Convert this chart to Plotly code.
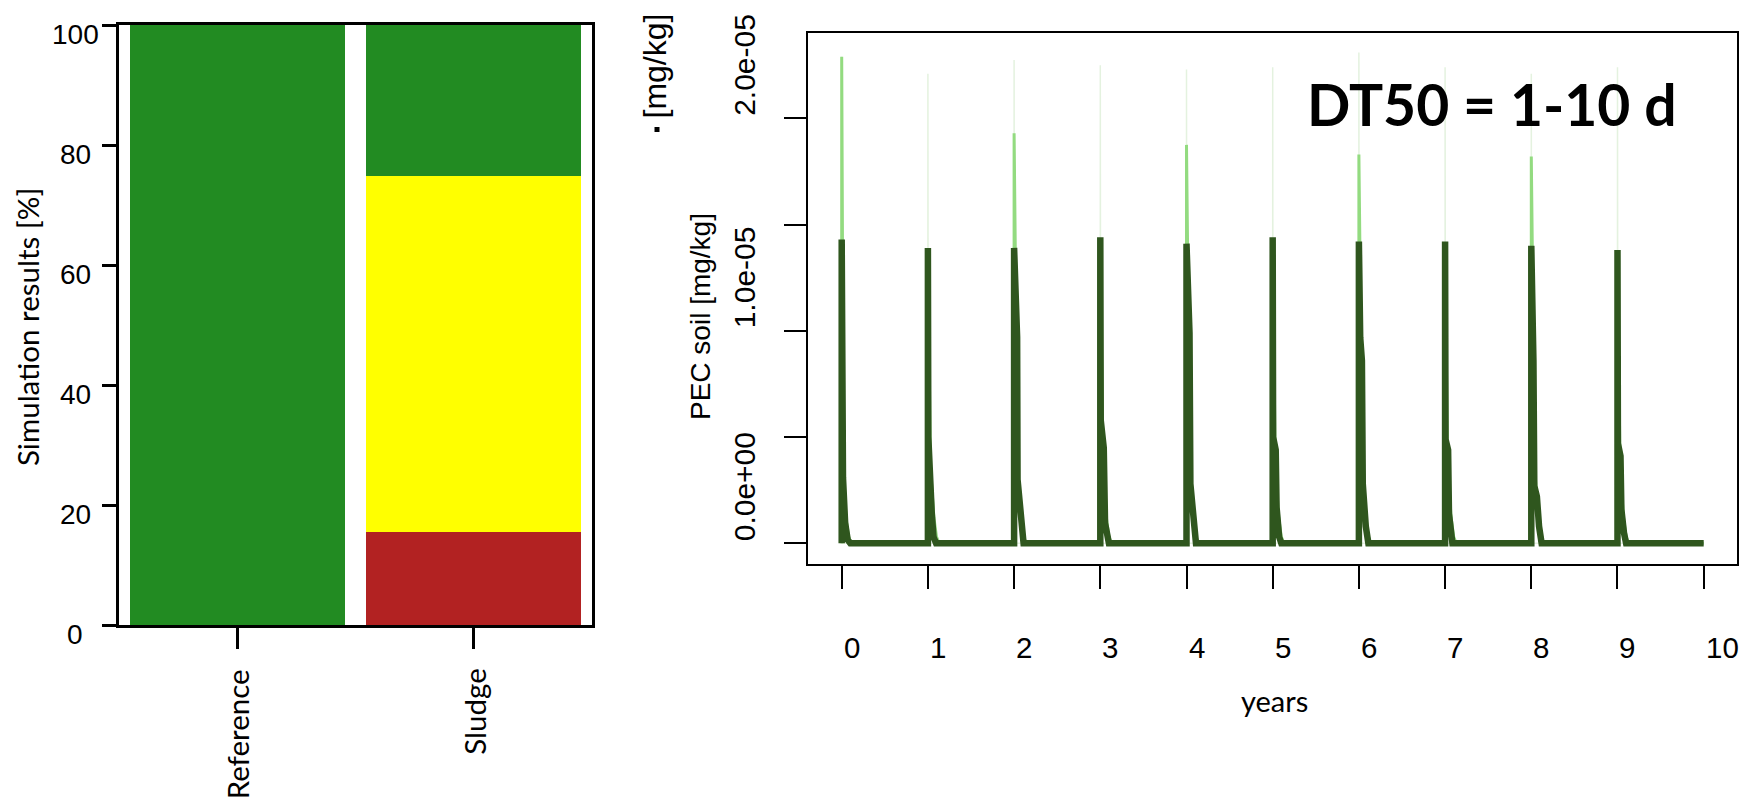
import plotly.graph_objects as go

W, H = 1752, 799

# ---------------- left panel data ----------------
categories = ["Reference", "Sludge"]
share_red = [0.0, 15.5]
share_yellow = [0.0, 59.4]
share_green = [100.0, 25.1]
pct_ticks = [0, 20, 40, 60, 80, 100]

# ---------------- right panel data ----------------
year_ticks = [0, 1, 2, 3, 4, 5, 6, 7, 8, 9, 10]
pec_ticks = [0.0, 0.5e-5, 1.0e-5, 1.5e-5, 2.0e-5]
pec_label_vals = [0.0, 1.0e-5, 2.0e-5]
pec_label_text = ["0.0e+00", "1.0e-05", "2.0e-05"]

# median run (dark line): time [years], PEC [1e-6 mg/kg], one list per application
dark_t = [
    [0.00, 0.00, 0.015, 0.015, 0.04, 0.07, 0.10],
    [1.00, 1.00, 1.005, 1.045, 1.065, 1.095],
    [2.00, 2.00, 2.035, 2.04, 2.07, 2.11],
    [3.00, 3.00, 3.005, 3.04, 3.055, 3.10],
    [4.00, 4.00, 4.025, 4.035, 4.045, 4.08, 4.11],
    [5.00, 5.00, 5.005, 5.035, 5.045, 5.075, 5.10],
    [6.00, 6.00, 6.015, 6.035, 6.045, 6.08, 6.11],
    [7.00, 7.00, 7.005, 7.035, 7.045, 7.085],
    [8.00, 8.00, 8.005, 8.025, 8.035, 8.065, 8.09, 8.12],
    [9.00, 9.00, 9.005, 9.035, 9.045, 9.075, 9.10],
    [10.0],
]
dark_v = [
    [0, 14.3, 12.1, 3.1, 0.95, 0.16, 0],
    [0, 13.9, 5.0, 1.4, 0.3, 0],
    [0, 13.9, 9.7, 3.0, 1.4, 0],
    [0, 14.4, 5.8, 4.5, 0.95, 0],
    [0, 14.1, 11.5, 9.9, 2.8, 0.77, 0],
    [0, 14.4, 5.0, 4.4, 1.7, 0.3, 0],
    [0, 14.2, 9.7, 8.6, 2.8, 0.8, 0],
    [0, 14.2, 4.9, 4.4, 1.4, 0],
    [0, 14.0, 9.9, 8.6, 2.7, 2.2, 0.8, 0],
    [0, 13.8, 4.7, 4.1, 1.6, 0.5, 0],
    [0],
]

# other runs (light green)
light_t = [
    [0.00, 0.00, 0.02, 0.05, 0.08, 0.11],
    [1.00, 1.00, 1.03, 1.07, 1.10, 1.13],
    [2.00, 2.00, 2.04, 2.08, 2.11, 2.14],
    [3.00, 3.00, 3.03, 3.07, 3.10, 3.13],
    [4.00, 4.00, 4.04, 4.08, 4.11, 4.14],
    [5.00, 5.00, 5.03, 5.07, 5.10, 5.13],
    [6.00, 6.00, 6.04, 6.08, 6.11, 6.14],
    [7.00, 7.00, 7.03, 7.07, 7.10, 7.13],
    [8.00, 8.00, 8.04, 8.08, 8.11, 8.14],
    [9.00, 9.00, 9.03, 9.07, 9.10, 9.13],
    [10.0],
]
light_v = [
    [0, 22.9, 3.5, 1.2, 0.3, 0],
    [0, 13.5, 3.5, 1.2, 0.3, 0],
    [0, 19.3, 3.5, 1.2, 0.3, 0],
    [0, 13.8, 3.5, 1.2, 0.3, 0],
    [0, 18.75, 3.5, 1.2, 0.3, 0],
    [0, 13.8, 3.5, 1.2, 0.3, 0],
    [0, 18.3, 3.5, 1.2, 0.3, 0],
    [0, 13.6, 3.5, 1.2, 0.3, 0],
    [0, 18.2, 3.5, 1.2, 0.3, 0],
    [0, 13.4, 3.5, 1.2, 0.3, 0],
    [0],
]

# highest runs (very faint)
faint_t = [
    [0.00, 0.00, 0.005], [1.00, 1.00, 1.005], [2.00, 2.00, 2.005], [3.00, 3.00, 3.005],
    [4.00, 4.00, 4.005], [5.00, 5.00, 5.005], [6.00, 6.00, 6.005], [7.00, 7.00, 7.005],
    [8.00, 8.00, 8.005], [9.00, 9.00, 9.005], [10.0],
]
faint_v = [
    [0, 22.9, 0], [0, 22.1, 0], [0, 22.75, 0], [0, 22.5, 0], [0, 22.3, 0],
    [0, 22.4, 0], [0, 23.1, 0], [0, 22.4, 0], [0, 22.1, 0], [0, 22.4, 0], [0],
]


def flat(rows):
    return [x for r in rows for x in r]


def px(x):
    return x / W


def py(y):
    return 1 - y / H


DARK = "#2F561E"
LIGHT = "#93DB80"
FAINT = "#E4F2DF"
ARIAL = "Liberation Sans"
CAL = "Lato"

fig = go.Figure()

# stacked bars
for vals, col, name in [(share_red, "#B22222", "high"), (share_yellow, "#FFFF00", "medium"),
                        (share_green, "#228B22", "low")]:
    fig.add_trace(go.Bar(x=categories, y=vals, marker=dict(color=col, line=dict(width=0)),
                         name=name, xaxis="x", yaxis="y"))

# PEC time series
fig.add_trace(go.Scatter(x=flat(faint_t), y=[v * 1e-6 for v in flat(faint_v)], mode="lines",
                         line=dict(color=FAINT, width=1.5), xaxis="x2", yaxis="y2"))
fig.add_trace(go.Scatter(x=flat(light_t), y=[v * 1e-6 for v in flat(light_v)], mode="lines",
                         line=dict(color=LIGHT, width=3), xaxis="x2", yaxis="y2"))
fig.add_trace(go.Scatter(x=flat(dark_t), y=[v * 1e-6 for v in flat(dark_v)], mode="lines",
                         line=dict(color=DARK, width=6.5), xaxis="x2", yaxis="y2"))

ann = []
# left y tick labels
for v in pct_ticks:
    ann.append(dict(x=px(75), xref="paper", y=v, yref="y", yshift=-9.4, text=str(v),
                    showarrow=False, xanchor="center", yanchor="middle",
                    font=dict(family=ARIAL, size=28, color="black")))
# category labels
for c in categories:
    ann.append(dict(x=c, xref="x", y=py(667), yref="paper", text=c, textangle=-90,
                    showarrow=False, xanchor="center", yanchor="top",
                    font=dict(family=CAL, size=29.5, color="black")))
ann.append(dict(x=px(27), xref="paper", y=py(327), yref="paper", text="Simulation results [%]",
                textangle=-90, showarrow=False, xanchor="center", yanchor="middle",
                font=dict(family=CAL, size=29.5, color="black")))
# right y tick labels
for v, t in zip(pec_label_vals, pec_label_text):
    ann.append(dict(x=px(744.5), xref="paper", y=v, yref="y2", text=t, textangle=-90,
                    showarrow=False, xanchor="center", yanchor="bottom",
                    font=dict(family=ARIAL, size=30, color="black")))
# right x tick labels
for v in year_ticks:
    ann.append(dict(x=v, xref="x2", y=py(647.7), yref="paper", text=str(v), showarrow=False,
                    xanchor="left", yanchor="middle", font=dict(family=ARIAL, size=29.5, color="black")))
ann.append(dict(x=px(1274), xref="paper", y=py(700), yref="paper", text="years", showarrow=False,
                xanchor="center", yanchor="middle", font=dict(family=CAL, size=29, color="black")))
ann.append(dict(x=px(700), xref="paper", y=py(317), yref="paper", text="PEC soil [mg/kg]",
                textangle=-90, showarrow=False, xanchor="center", yanchor="middle",
                font=dict(family=ARIAL, size=28, color="black")))
ann.append(dict(x=px(654.5), xref="paper", y=py(66), yref="paper", text="[mg/kg]",
                textangle=-90, showarrow=False, xanchor="center", yanchor="middle",
                font=dict(family=ARIAL, size=32, color="black")))
ann.append(dict(x=px(1492), xref="paper", y=py(104), yref="paper", text="<b>DT50 = 1-10 d</b>",
                showarrow=False, xanchor="center", yanchor="middle",
                font=dict(family=CAL, size=57, color="black")))

shapes = [dict(type="rect", xref="paper", yref="paper", x0=px(654.5), x1=px(659.5),
               y0=py(132), y1=py(127), fillcolor="black", line=dict(width=0))]

axis_common = dict(showline=True, mirror=True, linecolor="black", ticks="outside",
                   tickcolor="black", showticklabels=False, showgrid=False, zeroline=False,
                   fixedrange=True)

fig.update_layout(
    width=W, height=H, margin=dict(l=0, r=0, t=0, b=0),
    paper_bgcolor="white", plot_bgcolor="white",
    barmode="stack", bargap=0.092, showlegend=False, hovermode=False,
    annotations=ann, shapes=shapes,
    xaxis=dict(axis_common, domain=[px(119.2), px(591.8)], range=[-0.5, 1.5], linewidth=3,
               ticklen=21, tickwidth=2.5, anchor="y"),
    yaxis=dict(axis_common, domain=[py(625), py(25)], range=[0, 100], linewidth=3,
               tickvals=pct_ticks, ticklen=14, tickwidth=2.5, anchor="x"),
    xaxis2=dict(axis_common, domain=[px(808.3), px(1736.7)], range=[-0.3875, 10.383],
                linewidth=2, tickvals=year_ticks, ticklen=23, tickwidth=2, anchor="y2"),
    yaxis2=dict(axis_common, domain=[py(564), py(32.7)], range=[-0.974e-6, 24.03e-6],
                linewidth=2, tickvals=pec_ticks, ticklen=22, tickwidth=2, anchor="x2"),
)

fig.write_html("out.html")
